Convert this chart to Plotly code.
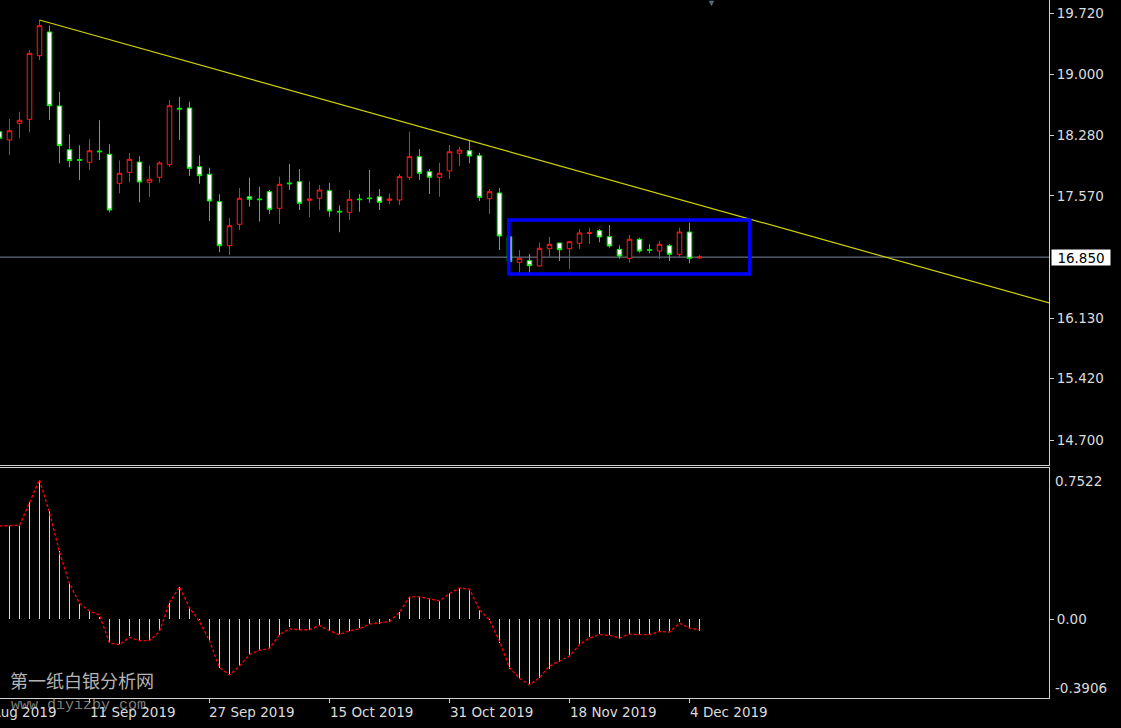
import plotly.graph_objects as go

# ---------------- data ----------------
idx = list(range(71))

open_ = [18.324, 18.227, 18.423, 18.470, 19.218, 19.497, 18.627, 18.113, 17.998, 17.965,
         18.098, 18.059, 17.718, 17.847, 17.968, 17.730, 17.789, 17.937, 18.600, 18.603,
         17.913, 17.824, 17.502, 16.984, 17.236, 17.560, 17.533, 17.619, 17.424, 17.722,
         17.737, 17.518, 17.542, 17.631, 17.389, 17.377, 17.533, 17.545, 17.560, 17.518,
         17.522, 17.789, 18.031, 17.854, 17.789, 17.863, 18.071, 18.101, 18.042, 17.537,
         17.604, 17.090, 16.789, 16.808, 16.746, 16.949, 17.016, 16.949, 17.013, 17.128,
         17.161, 17.090, 16.942, 16.836, 17.060, 16.937, 16.922, 16.984, 16.883, 17.145,
         16.840]
high = [18.650, 18.474, 18.560, 19.285, 19.638, 19.571, 18.795, 18.294, 18.165, 18.235,
        18.459, 18.176, 17.988, 18.074, 18.035, 17.930, 17.977, 18.697, 18.736, 18.677,
        18.047, 17.901, 17.589, 17.310, 17.663, 17.784, 17.678, 17.639, 17.796, 17.945,
        17.886, 17.741, 17.698, 17.725, 17.459, 17.639, 17.592, 17.874, 17.651, 17.600,
        17.827, 18.325, 18.121, 17.886, 17.960, 18.168, 18.148, 18.219, 18.078, 17.647,
        17.663, 17.098, 16.934, 16.887, 17.020, 17.090, 17.020, 17.040, 17.181, 17.196,
        17.181, 17.228, 16.989, 17.110, 17.078, 17.001, 17.040, 17.001, 17.196, 17.255,
        16.872]
low = [18.027, 18.051, 18.247, 18.318, 19.167, 18.462, 17.953, 17.906, 17.757, 17.874,
       17.992, 17.377, 17.600, 17.730, 17.495, 17.560, 17.725, 17.913, 18.227, 17.804,
       17.713, 17.275, 16.907, 16.875, 17.169, 17.443, 17.267, 17.357, 17.240, 17.639,
       17.404, 17.318, 17.404, 17.325, 17.142, 17.287, 17.384, 17.490, 17.404, 17.475,
       17.463, 17.757, 17.757, 17.592, 17.560, 17.769, 17.921, 17.953, 17.510, 17.357,
       16.934, 16.758, 16.667, 16.667, 16.738, 16.855, 16.805, 16.711, 16.946, 17.004,
       17.024, 16.961, 16.832, 16.785, 16.902, 16.895, 16.828, 16.805, 16.855, 16.777,
       16.832]
close = [18.247, 18.336, 18.459, 19.246, 19.571, 18.630, 18.160, 17.984, 17.988, 18.101,
         18.089, 17.404, 17.836, 18.000, 17.733, 17.765, 17.957, 18.630, 18.591, 17.894,
         17.807, 17.510, 16.984, 17.220, 17.542, 17.530, 17.526, 17.412, 17.706, 17.713,
         17.483, 17.533, 17.639, 17.392, 17.381, 17.530, 17.526, 17.538, 17.495, 17.533,
         17.796, 18.031, 17.836, 17.789, 17.836, 18.089, 18.109, 18.039, 17.553, 17.619,
         17.098, 16.796, 16.836, 16.749, 16.954, 17.001, 16.937, 17.031, 17.134, 17.136,
         17.087, 16.981, 16.863, 17.060, 16.922, 16.930, 17.001, 16.883, 17.145, 16.836,
         16.850]

macd_hist = [0.4626, 0.4626, 0.4626, 0.5804, 0.6915, 0.5362, 0.3400, 0.1815, 0.0752, 0.0409,
             0.0131, -0.1177, -0.1226, -0.0850, -0.1063, -0.1063, -0.0605, 0.0785, 0.1602, 0.0572,
             -0.0033, -0.1063, -0.2403, -0.2730, -0.2321, -0.1749, -0.1504, -0.1422, -0.0768, -0.0409,
             -0.0523, -0.0523, -0.0278, -0.0605, -0.0736, -0.0572, -0.0441, -0.0245, -0.0213, -0.0114,
             0.0343, 0.1112, 0.1112, 0.0997, 0.0915, 0.1308, 0.1553, 0.1488, 0.0458, -0.0033,
             -0.1177, -0.2485, -0.2975, -0.3253, -0.2894, -0.2452, -0.2109, -0.1864, -0.1226, -0.0883,
             -0.0736, -0.0801, -0.0965, -0.0736, -0.0736, -0.0768, -0.0605, -0.0605, -0.0147, -0.0441,
             -0.0572]
macd_signal = [0.4626, 0.4626, 0.4659, 0.5771, 0.6915, 0.5280, 0.3319, 0.1766, 0.0785, 0.0409,
               0.0213, -0.1177, -0.1259, -0.0899, -0.1063, -0.1063, -0.0605, 0.0834, 0.1602, 0.0572,
               -0.0114, -0.1063, -0.2403, -0.2763, -0.2321, -0.1749, -0.1537, -0.1455, -0.0768, -0.0474,
               -0.0523, -0.0523, -0.0311, -0.0572, -0.0768, -0.0572, -0.0474, -0.0245, -0.0196, -0.0114,
               0.0343, 0.1112, 0.1112, 0.0997, 0.0915, 0.1275, 0.1553, 0.1488, 0.0458, -0.0033,
               -0.1095, -0.2403, -0.2926, -0.3253, -0.2894, -0.2321, -0.2076, -0.1831, -0.1259, -0.0932,
               -0.0768, -0.0801, -0.0932, -0.0736, -0.0768, -0.0768, -0.0605, -0.0638, -0.0196, -0.0441,
               -0.0523]

# trend line (from the swing high) and the consolidation box
trend_idx = [4, 105]
trend_price = [19.638, 16.310]
box_idx = [50.93, 75.03]
box_price = [16.652, 17.286]

# axis ticks / labels
price_ticks = [19.720, 19.000, 18.280, 17.570, 16.130, 15.420, 14.700]
price_ticktext = ["19.720", "19.000", "18.280", "17.570", "16.130", "15.420", "14.700"]
macd_max_label = 0.7522
macd_min_label = -0.3906
date_tick_idx = [-3, 9, 21, 33, 45, 57, 69]
date_tick_text = ["26 Aug 2019", "11 Sep 2019", "27 Sep 2019", "15 Oct 2019",
                  "31 Oct 2019", "18 Nov 2019", "4 Dec 2019"]

# ---------------- figure ----------------
X_RANGE = [0.05, 104.95]
FG = "#dcdcdc"
FRAME = "#d0d0d0"
FONT = dict(family="DejaVu Sans", size=13.5, color=FG)

fig = go.Figure()

fig.add_trace(go.Candlestick(
    x=idx, open=open_, high=high, low=low, close=close,
    xaxis="x", yaxis="y",
    increasing=dict(line=dict(color="#ff1a1a", width=1), fillcolor="#000000"),
    decreasing=dict(line=dict(color="#00ee00", width=1), fillcolor="#ffffff"),
    whiskerwidth=0, hoverinfo="skip", showlegend=False))

fig.add_trace(go.Scatter(
    x=trend_idx, y=trend_price, mode="lines", xaxis="x", yaxis="y",
    line=dict(color="#d2d200", width=1.2), hoverinfo="skip", showlegend=False))

fig.add_trace(go.Bar(
    x=idx, y=macd_hist, xaxis="x2", yaxis="y2", width=0.1,
    marker=dict(color="#d8d8d8", line=dict(width=0)), hoverinfo="skip", showlegend=False))

fig.add_trace(go.Scatter(
    x=idx, y=macd_signal, mode="lines", xaxis="x2", yaxis="y2",
    line=dict(color="#ff0000", width=1.3, dash="3px,2px"), hoverinfo="skip", showlegend=False))

shapes = [
    dict(type="line", xref="x domain", yref="y", x0=0, x1=1,
         y0=close[-1], y1=close[-1], line=dict(color="#7b8a9a", width=1), layer="below"),
    dict(type="rect", xref="x", yref="y", x0=box_idx[0], x1=box_idx[1],
         y0=box_price[0], y1=box_price[1], line=dict(color="#0000ff", width=3.5)),
]

annotations = [
    dict(xref="paper", yref="y", x=1, y=close[-1], xanchor="left", yanchor="middle",
         xshift=2, text=f"{close[-1]:.3f}", showarrow=False, bgcolor="#ffffff",
         font=dict(family="DejaVu Sans", size=13.5, color="#000000"),
         width=58, height=15, align="center", borderpad=0),
    dict(xref="paper", yref="y2", x=1, y=macd_max_label, xanchor="left", yanchor="top",
         xshift=4, yshift=-3, text=f"{macd_max_label:.4f}", showarrow=False, font=FONT),
    dict(xref="paper", yref="y2", x=1, y=macd_min_label, xanchor="left", yanchor="bottom",
         xshift=4, yshift=0, text=f"{macd_min_label:.4f}", showarrow=False, font=FONT),
    dict(xref="paper", yref="paper", x=0.008, y=0.005, xanchor="left", yanchor="bottom",
         text="第一纸白银分析网", showarrow=False,
         font=dict(family="Noto Sans CJK SC", size=18, color="#b4b4b4")),
    dict(xref="paper", yref="paper", x=0.009, y=0, xanchor="left", yanchor="top", yshift=3,
         text="www.diyizby.com", showarrow=False,
         font=dict(family="Liberation Mono", size=15, color="rgba(185,185,185,0.7)")),
    dict(xref="paper", yref="paper", x=711 / 1049, y=1, xanchor="center", yanchor="top",
         yshift=6, text="▼", showarrow=False, font=dict(size=9, color="#5f6b7a")),
]
for ti, tt in zip(date_tick_idx, date_tick_text):
    px = (ti - X_RANGE[0]) / (X_RANGE[1] - X_RANGE[0])
    annotations.append(dict(xref="paper", yref="paper", x=px, y=0, xanchor="left",
                            yanchor="top", xshift=-2, yshift=-4, text=tt,
                            showarrow=False, font=FONT))

in_range_ticks = [t for t in date_tick_idx if X_RANGE[0] <= t <= X_RANGE[1]]

fig.update_layout(
    width=1121, height=728,
    paper_bgcolor="#000000", plot_bgcolor="#000000",
    margin=dict(l=0, r=72, t=0, b=30),
    showlegend=False, boxgap=0.35, bargap=0,
    shapes=shapes, annotations=annotations,
    xaxis=dict(domain=[0, 1], range=X_RANGE, anchor="y", showticklabels=False,
               showgrid=False, zeroline=False, showline=True, linecolor=FRAME,
               linewidth=1, ticks="", rangeslider=dict(visible=False)),
    yaxis=dict(domain=[0.3338, 1], range=[14.406, 19.873], side="right", anchor="x",
               tickvals=price_ticks, ticktext=price_ticktext, ticks="outside",
               ticklen=4, tickcolor=FRAME, showline=True, linecolor=FRAME, linewidth=1,
               showgrid=False, zeroline=False, tickfont=FONT),
    xaxis2=dict(domain=[0, 1], range=X_RANGE, anchor="y2", showticklabels=False,
                showgrid=False, zeroline=False, showline=True, mirror=True,
                linecolor=FRAME, linewidth=1, tickvals=in_range_ticks, ticks="outside",
                ticklen=4, tickcolor=FRAME),
    yaxis2=dict(domain=[0, 0.3302], range=[macd_min_label, macd_max_label], side="right",
                anchor="x2", tickvals=[0], ticktext=["0.00"], ticks="outside", ticklen=4,
                tickcolor=FRAME, showline=True, linecolor=FRAME, linewidth=1,
                showgrid=False, zeroline=False, tickfont=FONT),
)

fig.write_html(
    "out.html",
    config={"displayModeBar": False, "staticPlot": True},
    post_script="document.body.style.margin='0';document.body.style.background='#000';"
                "document.body.style.overflow='hidden';",
)
